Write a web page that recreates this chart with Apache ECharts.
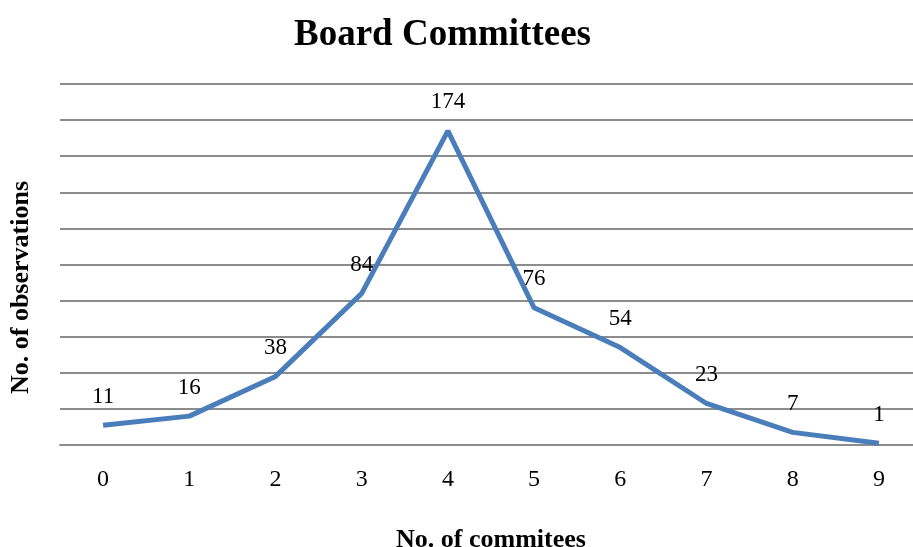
<!DOCTYPE html>
<html>
<head>
<meta charset="utf-8">
<script src="https://cdn.jsdelivr.net/npm/echarts@6/dist/echarts.min.js"></script>
<style>html,body{margin:0;padding:0;background:#fff;}#c{width:913px;height:547px;}</style>
</head>
<body>
<div id="c"></div>
<script>
var categories = ['0','1','2','3','4','5','6','7','8','9'];
var observations = [11, 16, 38, 84, 174, 76, 54, 23, 7, 1];
var yTicks = {min: 0, max: 200, interval: 20};

var chart = echarts.init(document.getElementById('c'));
var serif = '"Liberation Serif", "Times New Roman", serif';
chart.setOption({
  animation: false,
  backgroundColor: '#fff',
  title: {
    text: 'Board Committees',
    left: 289,
    top: 12,
    textStyle: {fontFamily: serif, fontSize: 37, fontWeight: 'bold', color: '#000'}
  },
  grid: {left: 60, top: 84, width: 862, bottom: 102, containLabel: false, outerBoundsMode: 'none'},
  xAxis: {
    type: 'category',
    data: categories,
    boundaryGap: true,
    name: 'No. of commitees',
    nameLocation: 'middle',
    nameGap: 82,
    nameTextStyle: {fontFamily: serif, fontSize: 26, fontWeight: 'bold', color: '#000'},
    axisLine: {show: true, lineStyle: {color: '#8c8c8c', width: 2}},
    axisTick: {show: false},
    axisLabel: {fontFamily: serif, fontSize: 24, color: '#000', margin: 23}
  },
  yAxis: {
    type: 'value',
    min: yTicks.min,
    max: yTicks.max,
    interval: yTicks.interval,
    name: 'No. of observations',
    nameLocation: 'middle',
    nameGap: 26,
    nameTextStyle: {fontFamily: serif, fontSize: 26, fontWeight: 'bold', color: '#000', padding: [0, 46, 0, 0]},
    axisLine: {show: false},
    axisTick: {show: false},
    axisLabel: {show: false},
    splitLine: {lineStyle: {color: '#8c8c8c', width: 2}}
  },
  series: [{
    type: 'line',
    data: observations,
    showSymbol: true,
    symbol: 'circle',
    symbolSize: 0.1,
    lineStyle: {color: '#4a7ebb', width: 5},
    itemStyle: {color: '#4a7ebb'},
    label: {
      show: true,
      position: 'top',
      distance: 17,
      fontFamily: serif,
      fontSize: 23,
      color: '#000'
    }
  }]
});
</script>
</body>
</html>
